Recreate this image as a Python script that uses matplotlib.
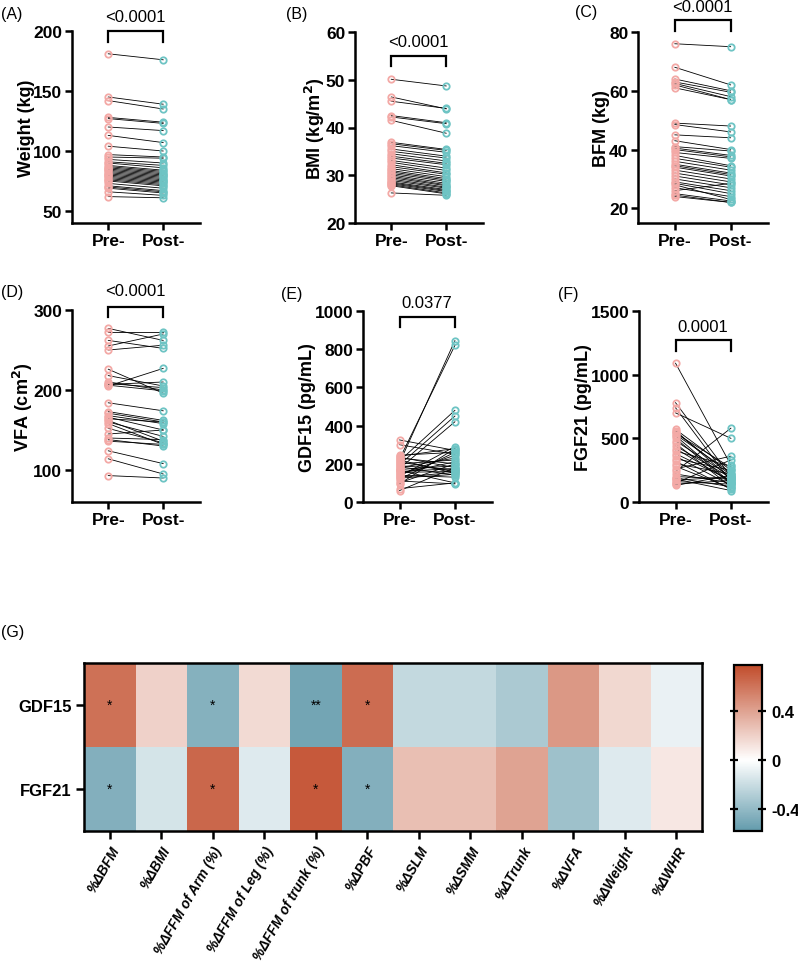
import numpy as np
import matplotlib
matplotlib.use("Agg")
import matplotlib.pyplot as plt
from matplotlib.colors import LinearSegmentedColormap, Normalize

plt.rcParams['font.family'] = ['Liberation Sans', 'DejaVu Sans']

W, H = 798, 962

# ---- paired data (pre / post) ----
weight_pre = [181, 145, 142, 128, 127, 120, 113, 104, 97, 95, 93, 91, 90, 88, 87, 86, 85,
              84, 83, 82, 81, 80, 79, 78, 77, 76, 75, 73, 71, 70, 69, 66, 62]
weight_post = [176, 139, 135, 124, 123, 117, 107, 100, 95, 94, 90, 88, 86, 84, 83, 82, 81,
               80, 79, 78, 77, 76, 75, 74, 73, 72, 71, 69, 67, 66, 65, 63, 61]

bmi_pre = [50.1, 46.4, 45.5, 42.5, 42.2, 41.5, 36.9, 36.6, 36.2, 35.5, 35.0, 34.5, 34.0,
           33.6, 33.1, 32.7, 32.2, 31.8, 31.4, 31.0, 30.7, 30.4, 30.1, 29.8, 29.5, 29.2,
           28.9, 28.6, 28.4, 28.2, 28.0, 27.8, 26.3]
bmi_post = [48.7, 43.9, 44.0, 41.0, 40.8, 38.8, 35.4, 35.2, 34.8, 34.0, 33.6, 33.0, 32.5,
            32.2, 31.5, 31.0, 30.5, 30.2, 29.7, 29.3, 29.0, 28.7, 28.3, 28.0, 27.8, 27.5,
            27.3, 27.0, 26.8, 26.6, 26.3, 26.1, 25.8]

bfm_pre = [76, 68, 64, 63, 62.5, 62, 61, 49, 48.5, 45, 43, 41, 40.5, 40, 39, 38, 37, 36,
           35, 34.5, 34, 33, 32, 31, 30, 29, 28.5, 28, 27, 26, 25, 24.5, 24]
bfm_post = [75, 62, 60, 59.5, 58, 57, 57, 48, 46, 44, 40, 39.5, 38, 37.5, 37, 34.5, 34, 33,
            32, 31.5, 31, 30, 29, 28, 27, 26, 25, 23, 24, 28.5, 22.5, 22, 22]

vfa_pre = [277, 273, 262, 255, 250, 226, 218, 210, 208, 207, 206, 205, 184, 173, 171, 168,
           166, 164, 162, 160, 158, 152, 145, 140, 138, 136, 124, 114, 93]
vfa_post = [262, 273, 252, 270, 256, 196, 205, 200, 203, 210, 199, 227, 174, 162, 160, 158,
            150, 160, 136, 142, 132, 134, 150, 138, 130, 132, 108, 95, 90]

gdf15_pre = [325, 300, 245, 240, 235, 230, 225, 220, 215, 210, 205, 200, 195, 190, 185, 180,
             175, 170, 165, 160, 155, 150, 145, 140, 135, 130, 125, 120, 110, 100, 95, 70, 60]
gdf15_post = [270, 250, 260, 280, 180, 200, 820, 150, 480, 160, 845, 220, 450, 170, 140, 230,
              420, 190, 100, 175, 160, 210, 245, 130, 290, 155, 145, 260, 95, 200, 280, 100, 180]

fgf21_pre = [1090, 780, 740, 700, 570, 560, 550, 540, 530, 520, 500, 480, 460, 440, 420, 400,
             380, 360, 340, 320, 300, 280, 260, 240, 220, 200, 190, 180, 170, 160, 150, 140, 130]
fgf21_post = [290, 200, 160, 500, 250, 180, 210, 270, 230, 150, 140, 200, 120, 190, 160, 280,
              170, 130, 250, 100, 220, 110, 360, 580, 150, 180, 120, 90, 200, 140, 330, 170, 210]

group_labels = ["Pre-", "Post-"]

# ---- heatmap data ----
hm_rows = ["GDF15", "FGF21"]
hm_cols = ["%ΔBFM", "%ΔBMI", "%ΔFFM of Arm (%)", "%ΔFFM of Leg (%)", "%ΔFFM of trunk (%)",
           "%ΔPBF", "%ΔSLM", "%ΔSMM", "%ΔTrunk", "%ΔVFA", "%ΔWeight", "%ΔWHR"]
hm_gdf15 = [0.62, 0.20, -0.45, 0.16, -0.52, 0.64, -0.22, -0.22, -0.31, 0.45, 0.17, -0.08]
hm_fgf21 = [-0.46, -0.16, 0.66, -0.12, 0.72, -0.46, 0.28, 0.28, 0.40, -0.36, -0.12, 0.10]
hm_stars_gdf15 = ["*", "", "*", "", "**", "*", "", "", "", "", "", ""]
hm_stars_fgf21 = ["*", "", "*", "", "*", "*", "", "", "", "", "", ""]


def px_rect(l, t, r, b):
    return [l / W, 1 - b / H, (r - l) / W, (b - t) / H]


def paired_panel(rect, pre, post, ylim, yticks, ylabel, ptxt, br_top, br_leg, txt_y, letter, letter_xy):
    ax = fig.add_axes(px_rect(*rect))
    for a, b in zip(pre, post):
        ax.plot([0, 1], [a, b], color='black', lw=0.6, zorder=2)
    ax.plot(np.zeros(len(pre)), pre, 'o', mfc='none', mec='#F3A9A6', ms=4.6, mew=1.3, zorder=3)
    ax.plot(np.ones(len(post)), post, 'o', mfc='none', mec='#6EC4C4', ms=4.6, mew=1.3, zorder=3)
    ax.set_xlim(-0.66, 1.67)
    ax.set_ylim(*ylim)
    ax.set_yticks(yticks)
    ax.set_xticks([0, 1])
    ax.set_xticklabels(group_labels)
    ax.spines['top'].set_visible(False)
    ax.spines['right'].set_visible(False)
    ax.spines['left'].set_linewidth(1.8)
    ax.spines['bottom'].set_linewidth(1.8)
    ax.tick_params(width=1.8, length=5, labelsize=12.5, pad=2)
    for lab in ax.get_xticklabels() + ax.get_yticklabels():
        lab.set_fontweight('bold')
    ax.set_ylabel(ylabel, fontsize=13, fontweight='bold', labelpad=-1)
    ax.plot([0, 0, 1, 1], [br_leg, br_top, br_top, br_leg], color='black', lw=1.6,
            clip_on=False, solid_joinstyle='miter')
    ax.text(0.5, txt_y, ptxt, ha='center', va='center', fontsize=12, clip_on=False)
    fig.text(letter_xy[0] / W, 1 - letter_xy[1] / H, letter, fontsize=11.5, va='center', ha='left')
    return ax


fig = plt.figure(figsize=(W / 100, H / 100), dpi=100)

paired_panel((72, 32, 200, 224), weight_pre, weight_post, (40, 200), [50, 100, 150, 200],
             "Weight (kg)", "<0.0001", 200, 191, 212, "(A)", (1, 14))
paired_panel((355, 33, 483, 224), bmi_pre, bmi_post, (20, 60), [20, 30, 40, 50, 60],
             "BMI (kg/m$\\mathbf{^2}$)", "<0.0001", 55, 52.8, 58, "(B)", (286, 15))
paired_panel((638, 33, 768, 224), bfm_pre, bfm_post, (15, 80), [20, 40, 60, 80],
             "BFM (kg)", "<0.0001", 84, 80.3, 88.8, "(C)", (575, 13))
paired_panel((72, 311, 200, 503), vfa_pre, vfa_post, (60, 300), [100, 200, 300],
             "VFA (cm$\\mathbf{^2}$)", "<0.0001", 304, 291, 324, "(D)", (1, 293))
paired_panel((363, 312, 492, 503), gdf15_pre, gdf15_post, (0, 1000), [0, 200, 400, 600, 800, 1000],
             "GDF15 (pg/mL)", "0.0377", 968, 916, 1047, "(E)", (281, 294))
paired_panel((639, 312, 768, 503), fgf21_pre, fgf21_post, (0, 1500), [0, 500, 1000, 1500],
             "FGF21 (pg/mL)", "0.0001", 1272, 1185, 1382, "(F)", (558, 294))

# ---- heatmap ----
fig.text(1 / W, 1 - 633 / H, "(G)", fontsize=11.5, va='center', ha='left')
vmin, vmax = -0.58, 0.78
mid = -vmin / (vmax - vmin)
cmap = LinearSegmentedColormap.from_list(
    'tealred', [(0, '#639BAC'), (mid, '#FFFFFF'), (1, '#C14C2B')])
norm = Normalize(vmin=vmin, vmax=vmax)
hm = np.array([hm_gdf15, hm_fgf21])
axh = fig.add_axes(px_rect(84, 664, 702, 832))
mesh = axh.pcolormesh(np.arange(len(hm_cols) + 1), np.arange(len(hm_rows) + 1), hm,
                      cmap=cmap, norm=norm)
axh.set_ylim(2, 0)
axh.set_xticks(np.arange(len(hm_cols)) + 0.5)
axh.set_xticklabels(hm_cols, rotation=60, ha='right', rotation_mode='anchor',
                    fontsize=9.8, fontweight='bold', fontstyle='italic')
axh.set_yticks([0.5, 1.5])
axh.set_yticklabels(hm_rows, fontsize=12, fontweight='bold')
axh.tick_params(width=1.8, length=6, pad=3)
for s in axh.spines.values():
    s.set_linewidth(1.8)
for i, stars in enumerate([hm_stars_gdf15, hm_stars_fgf21]):
    for j, st in enumerate(stars):
        if st:
            axh.text(j + 0.5, i + 0.5, st, ha='center', va='center', fontsize=10)

axc = fig.add_axes(px_rect(734, 666, 762, 832))
cb = fig.colorbar(mesh, cax=axc)
cb.set_ticks([-0.4, 0, 0.4])
cb.set_ticklabels(["-0.4", "0", "0.4"])
cb.outline.set_linewidth(1.6)
axc.tick_params(direction='inout', length=6, width=1.6, labelsize=12, left=True, right=True)
for lab in axc.get_yticklabels():
    lab.set_fontweight('bold')

fig.savefig("out.png", dpi=100)
